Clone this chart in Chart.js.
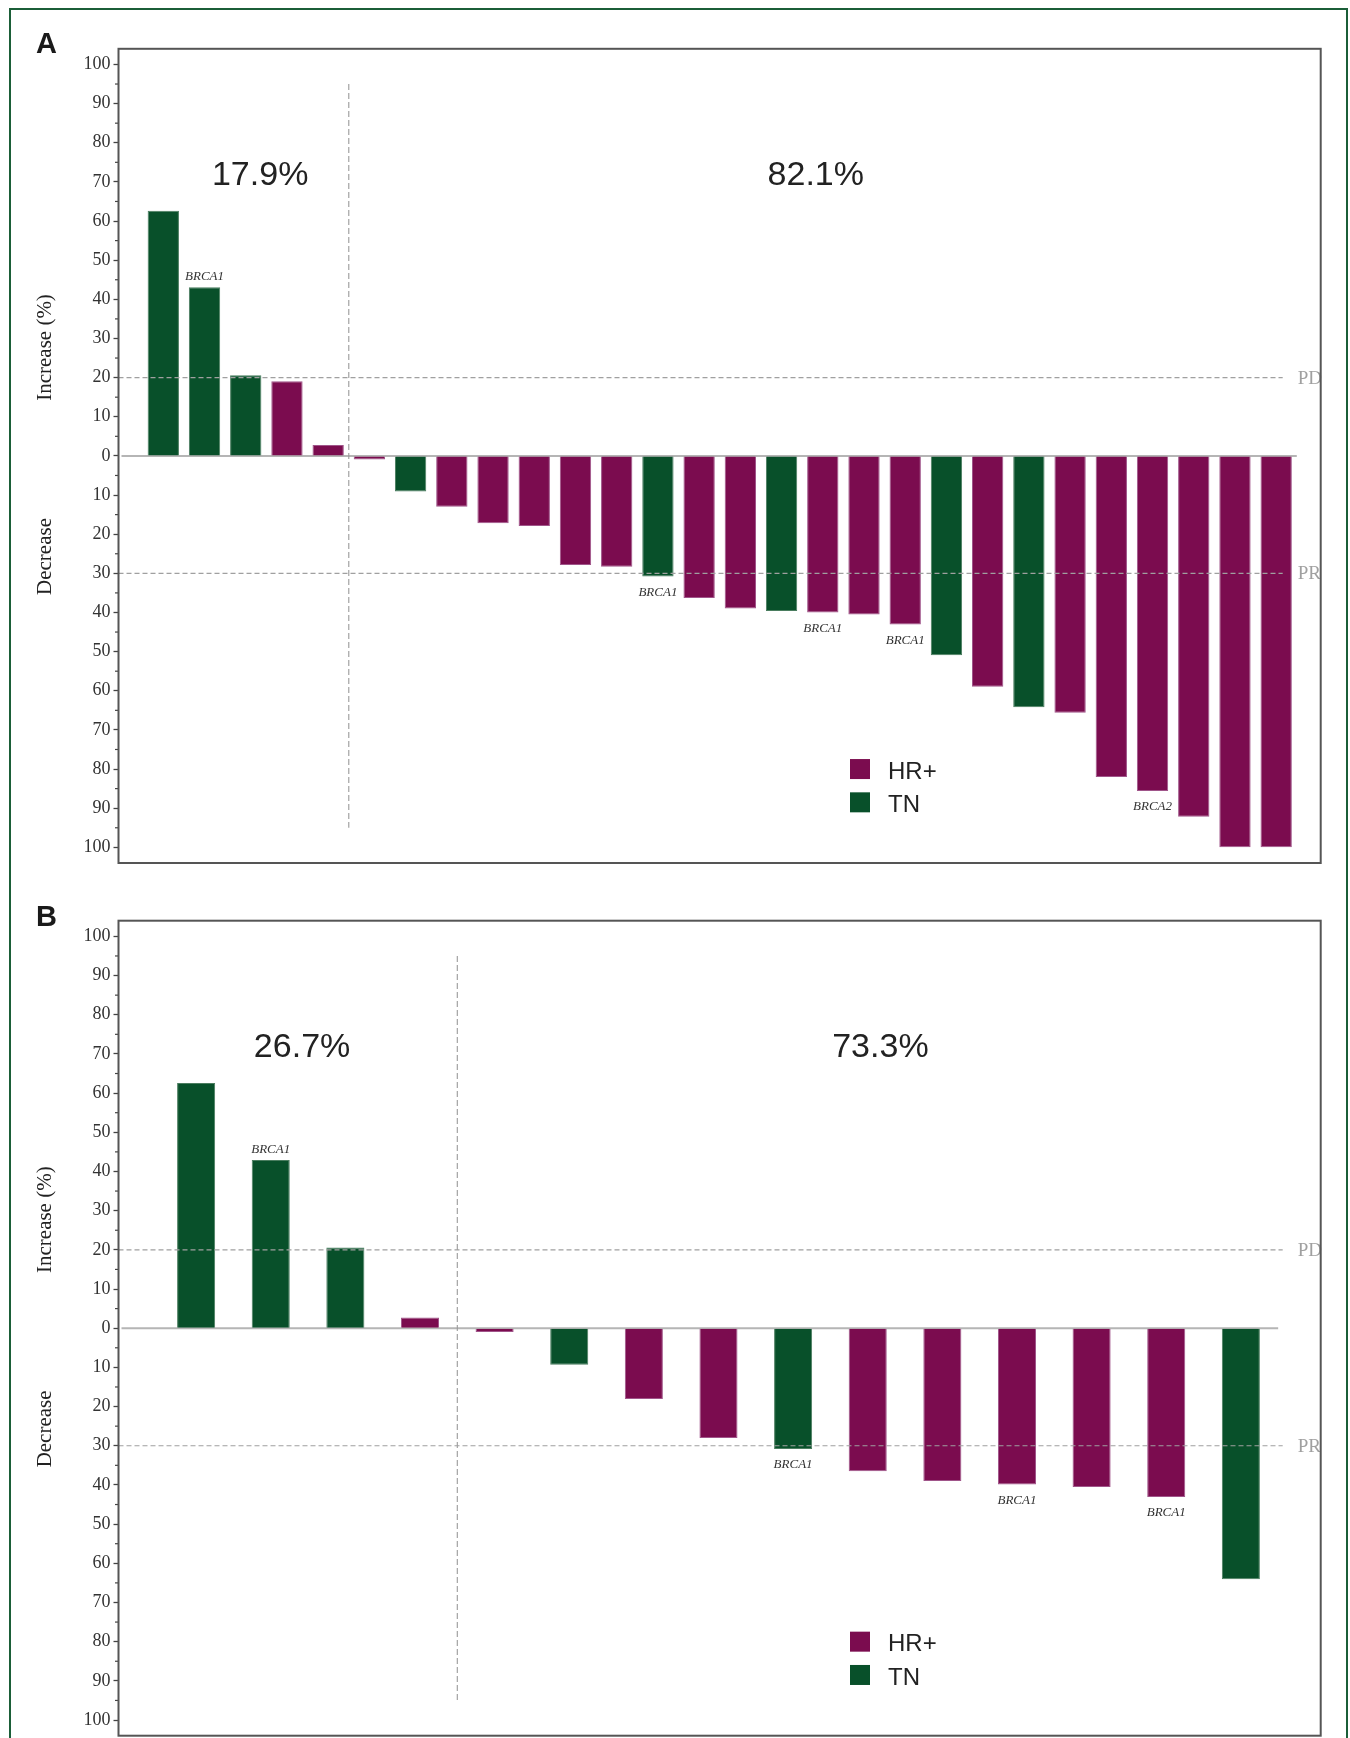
<!DOCTYPE html>
<html>
<head>
<meta charset="utf-8">
<script src="https://cdn.jsdelivr.net/npm/chart.js@4.4.1/dist/chart.umd.min.js"></script>
<style>
  html, body { margin: 0; padding: 0; background: #fff; width: 1350px; height: 1738px; overflow: hidden; }
  #frame { position: absolute; left: 9px; top: 8px; width: 1339px; height: 1800px; box-sizing: border-box; border: 2.5px solid #1b5e38; }
  canvas { position: absolute; left: 0; }
  #chartA { top: 0; }
  #chartB { top: 880px; }
</style>
</head>
<body>
<div id="frame"></div>
<canvas id="chartA" width="1350" height="880"></canvas>
<canvas id="chartB" width="1350" height="858"></canvas>
<script>
// panel A - all patients
var valuesA = [62.6, 43.1, 20.6, 19.1, 2.8, -0.9, -9.1, -13.0, -17.2, -17.9, -27.9, -28.3, -30.8, -36.3,
               -39.0, -39.6, -40.0, -40.5, -43.1, -50.9, -59.0, -64.2, -65.6, -82.0, -85.6, -92.2, -100, -100];
var groupsA = ['TN', 'TN', 'TN', 'HR+', 'HR+', 'HR+', 'TN', 'HR+', 'HR+', 'HR+', 'HR+', 'HR+', 'TN', 'HR+',
               'HR+', 'TN', 'HR+', 'HR+', 'HR+', 'TN', 'HR+', 'TN', 'HR+', 'HR+', 'HR+', 'HR+', 'HR+', 'HR+'];
var mutationsA = ['', 'BRCA1', '', '', '', '', '', '', '', '', '', '', 'BRCA1', '',
                  '', '', 'BRCA1', '', 'BRCA1', '', '', '', '', '', 'BRCA2', '', '', ''];

// panel B
var valuesB = [62.6, 42.9, 20.6, 2.7, -1.0, -9.3, -18.1, -28.0, -30.8, -36.5, -39.0, -39.9, -40.5, -43.1, -64.1];
var groupsB = ['TN', 'TN', 'TN', 'HR+', 'HR+', 'TN', 'HR+', 'HR+', 'TN', 'HR+', 'HR+', 'HR+', 'HR+', 'HR+', 'TN'];
var mutationsB = ['', 'BRCA1', '', '', '', '', '', '', 'BRCA1', '', '', 'BRCA1', '', 'BRCA1', ''];

var yTickValues = [-100, -90, -80, -70, -60, -50, -40, -30, -20, -10, 0, 10, 20, 30, 40, 50, 60, 70, 80, 90, 100];
var refValues = [20, -30];
var refLabels = ['PD', 'PR'];
var groupNames = ['HR+', 'TN'];

var groupColors = { 'HR+': '#7b0c4f', 'TN': '#08502a' };
var groupEdges = { 'HR+': '#a0558a', 'TN': '#4a7d5f' };

function makePanel(id, letter, values, groups, mutations, lay) {
    var n = values.length;
    var nUp = values.filter(function (v) { return v > 0; }).length;
    var pctTexts = [(100 * nUp / n).toFixed(1) + '%', (100 * (n - nUp) / n).toFixed(1) + '%'];
    var points = values.map(function (v, i) { return { x: i + 1, y: v }; });

    var decor = {
        id: 'decor',
        beforeDatasetsDraw: function (chart) {
            var ctx = chart.ctx, a = chart.chartArea, xs = chart.scales.x, ys = chart.scales.y;
            ctx.save();
            // zero line
            var y0 = ys.getPixelForValue(0);
            ctx.strokeStyle = '#b5b5b5';
            ctx.lineWidth = 2;
            ctx.beginPath();
            ctx.moveTo(a.left + 3, y0);
            ctx.lineTo(xs.getPixelForValue(n + 0.5), y0);
            ctx.stroke();
            // split line between growth and shrinkage
            var xsplit = xs.getPixelForValue(nUp + 0.5);
            ctx.setLineDash([6, 3]);
            ctx.lineWidth = 1.1;
            ctx.strokeStyle = '#9a9a9a';
            ctx.beginPath();
            ctx.moveTo(xsplit, ys.getPixelForValue(95));
            ctx.lineTo(xsplit, ys.getPixelForValue(-95));
            ctx.stroke();
            ctx.restore();
        },
        afterDatasetsDraw: function (chart) {
            var ctx = chart.ctx, a = chart.chartArea, xs = chart.scales.x, ys = chart.scales.y;
            ctx.save();
            // PD / PR
            ctx.setLineDash([5, 3]);
            ctx.lineWidth = 1.2;
            ctx.strokeStyle = '#a0a0a0';
            ctx.fillStyle = '#a0a0a0';
            ctx.font = '19px "Liberation Serif"';
            ctx.textBaseline = 'middle';
            ctx.textAlign = 'left';
            refValues.forEach(function (v, k) {
                var y = ys.getPixelForValue(v);
                ctx.beginPath();
                ctx.moveTo(a.left, y);
                ctx.lineTo(a.right - 38, y);
                ctx.stroke();
                ctx.fillText(refLabels[k], a.right - 23, y + 1);
            });
            ctx.setLineDash([]);

            // mutation labels
            var meta = chart.getDatasetMeta(0);
            ctx.font = 'italic 13px "Liberation Serif"';
            ctx.fillStyle = '#333';
            ctx.textAlign = 'center';
            mutations.forEach(function (m, i) {
                if (!m) return;
                var bar = meta.data[i];
                var y = values[i] > 0 ? bar.y - 11 : bar.y + 16;
                ctx.fillText(m, bar.x, y);
            });

            // percentages
            ctx.font = '34px "Liberation Sans"';
            ctx.fillStyle = '#222';
            pctTexts.forEach(function (t, k) {
                ctx.fillText(t, xs.getPixelForValue(lay.pctX[k]), ys.getPixelForValue(71.6));
            });

            // legend
            ctx.textAlign = 'left';
            ctx.font = '24px "Liberation Sans"';
            groupNames.forEach(function (g, k) {
                var cy = ys.getPixelForValue(k === 0 ? -80 : -88.5);
                ctx.fillStyle = groupColors[g];
                ctx.fillRect(850, cy - 10, 20, 20);
                ctx.fillStyle = '#222';
                ctx.fillText(g, 888, cy + 3);
            });

            // axis titles
            ctx.font = '21px "Liberation Serif"';
            ctx.fillStyle = '#222';
            [['Increase (%)', 27.7], ['Decrease', -25.7]].forEach(function (t) {
                ctx.save();
                ctx.translate(45, ys.getPixelForValue(t[1]));
                ctx.rotate(-Math.PI / 2);
                ctx.textAlign = 'center';
                ctx.fillText(t[0], 0, 0);
                ctx.restore();
            });

            // minor ticks
            ctx.strokeStyle = '#444';
            ctx.lineWidth = 1.2;
            for (var v = -95; v <= 95; v += 10) {
                var yy = ys.getPixelForValue(v);
                ctx.beginPath();
                ctx.moveTo(a.left - 3.5, yy);
                ctx.lineTo(a.left, yy);
                ctx.stroke();
            }

            // frame of plot
            ctx.strokeStyle = '#555';
            ctx.lineWidth = 2;
            ctx.strokeRect(a.left, a.top, a.right - a.left, a.bottom - a.top);

            // panel letter
            ctx.font = 'bold 29px "Liberation Sans"';
            ctx.fillStyle = '#1a1a1a';
            ctx.textBaseline = 'alphabetic';
            ctx.fillText(letter, 36, lay.letterY);
            ctx.restore();
        }
    };

    return new Chart(document.getElementById(id), {
        type: 'bar',
        data: {
            datasets: [{
                data: points,
                backgroundColor: groups.map(function (g) { return groupColors[g]; }),
                borderColor: groups.map(function (g) { return groupEdges[g]; }),
                borderWidth: 1,
                barPercentage: lay.barPct,
                categoryPercentage: 1
            }]
        },
        options: {
            responsive: false,
            animation: false,
            layout: { padding: lay.padding },
            plugins: { legend: { display: false }, tooltip: { enabled: false } },
            scales: {
                x: {
                    type: 'linear',
                    min: lay.xMin,
                    max: lay.xMax,
                    offset: false,
                    display: false,
                    afterBuildTicks: function (s) { s.ticks = points.map(function (p) { return { value: p.x }; }); }
                },
                y: {
                    min: -104,
                    max: 104,
                    afterBuildTicks: function (s) { s.ticks = yTickValues.map(function (v) { return { value: v }; }); },
                    afterFit: function (s) {
                        s.width = 118.5;
                        s.paddingTop = 0;
                        s.paddingBottom = 0;
                    },
                    grid: { drawOnChartArea: false, drawTicks: true, tickLength: 5, tickColor: '#444', tickWidth: 1.3 },
                    border: { display: false },
                    ticks: {
                        autoSkip: false,
                        padding: 3,
                        color: '#333',
                        font: { family: 'Liberation Serif', size: 18 },
                        callback: function (v) { return Math.abs(v); }
                    }
                }
            }
        },
        plugins: [decor]
    });
}

makePanel('chartA', 'A', valuesA, groupsA, mutationsA, {
    xMin: -0.087, xMax: 29.08, barPct: 0.76, pctX: [3.35, 16.83], letterY: 53,
    padding: { top: 48.8, right: 29.3, bottom: 17, left: 0 }
});
makePanel('chartB', 'B', valuesB, groupsB, mutationsB, {
    xMin: -0.04, xMax: 16.07, barPct: 0.51, pctX: [2.42, 10.17], letterY: 46,
    padding: { top: 40.7, right: 29.3, bottom: 2.3, left: 0 }
});
</script>
</body>
</html>
